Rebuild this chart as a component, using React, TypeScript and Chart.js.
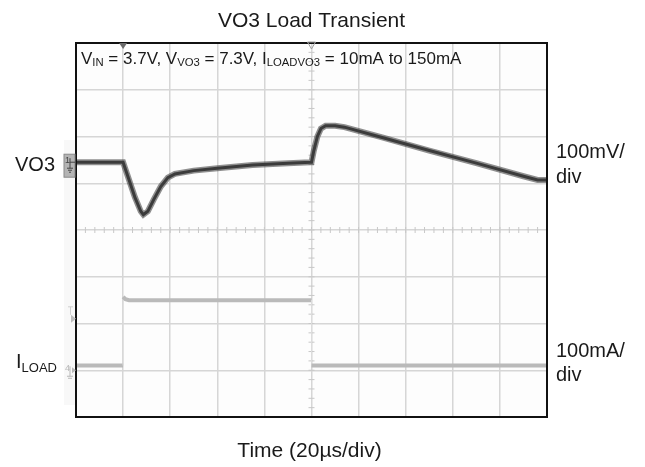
import React, { useEffect, useRef } from 'react';
import { Chart, registerables } from 'chart.js';

Chart.register(...registerables);

// ---- data (time in µs, 20 µs/div) ----
const VO3_TIME_US = [0, 20, 22, 25, 27.5, 28.6, 30.5, 33, 36, 39, 42, 50, 60, 75, 90, 99.6, 100, 101, 102.5, 104, 106, 110, 114, 130, 150, 170, 190, 196, 200];
const VO3_MV = [0, 0, -30, -75, -105, -112, -105, -80, -52, -33, -25, -18, -13, -6, -2, 0, 0, 25, 55, 72, 78, 78, 75, 53, 25, -2, -30, -38, -38];

const ILOAD_TIME_US = [0, 20, 20, 21, 22.5, 100, 100, 200];
const ILOAD_MA = [10, 10, 157, 152, 150, 150, 10, 10];

const TIME_RANGE_US = [0, 200];
const TIME_DIV_US = 20;
const VO3_RANGE_MV = [-545, 255];
const ILOAD_RANGE_MA = [-100, 700];
const ILOAD_DIV_MA = 100;
const TRIGGER_LEVEL_MA = 110;
const TRIGGER_MARK_US = [20, 100];

const TITLE = 'VO3 Load Transient';
const X_TITLE = 'Time (20µs/div)';
const VO3_SCALE = ['100mV/', 'div'];
const ILOAD_SCALE = ['100mA/', 'div'];
const CONDITIONS = [
  { t: 'V' }, { t: 'IN', sub: true }, { t: ' = 3.7V, V' }, { t: 'VO3', sub: true },
  { t: ' = 7.3V, I' }, { t: 'LOADVO3', sub: true }, { t: ' = 10mA to 150mA' },
];

const FONT = "'Liberation Sans', Arial, sans-serif";

type Part = { t: string; sub?: boolean };

function drawRich(ctx: CanvasRenderingContext2D, parts: Part[], x: number, y: number, size: number, subSize: number, subDrop: number, color: string) {
  ctx.save();
  ctx.fillStyle = color;
  ctx.textBaseline = 'alphabetic';
  ctx.textAlign = 'left';
  let cx = x;
  for (const p of parts) {
    ctx.font = `${p.sub ? subSize : size}px ${FONT}`;
    ctx.fillText(p.t, cx, p.sub ? y + subDrop : y);
    cx += ctx.measureText(p.t).width;
  }
  ctx.restore();
}

const scopePlugin = {
  id: 'scopeDecor',
  beforeDraw(chart: any) {
    const { ctx, chartArea: a } = chart;
    ctx.save();
    ctx.fillStyle = '#ffffff';
    ctx.fillRect(0, 0, chart.width, chart.height);
    ctx.fillStyle = '#f8f8f8';
    ctx.fillRect(a.left - 12, 140, 12, 265);
    ctx.fillStyle = '#fdfdfd';
    ctx.fillRect(a.left, a.top, a.right - a.left, a.bottom - a.top);
    ctx.restore();
  },
  beforeDatasetsDraw(chart: any) {
    const { ctx } = chart;
    const x = chart.scales.x;
    const yI = chart.scales.yI;
    const cy = yI.getPixelForValue((ILOAD_RANGE_MA[0] + ILOAD_RANGE_MA[1]) / 2);
    const cxv = x.getPixelForValue((TIME_RANGE_US[0] + TIME_RANGE_US[1]) / 2);
    ctx.save();
    ctx.strokeStyle = '#c8c8c8';
    ctx.lineWidth = 1;
    ctx.beginPath();
    for (let t = TIME_RANGE_US[0]; t <= TIME_RANGE_US[1]; t += TIME_DIV_US / 5) {
      const px = x.getPixelForValue(t);
      ctx.moveTo(px, cy - 3);
      ctx.lineTo(px, cy + 3);
    }
    for (let v = ILOAD_RANGE_MA[0]; v <= ILOAD_RANGE_MA[1]; v += ILOAD_DIV_MA / 5) {
      const py = yI.getPixelForValue(v);
      ctx.moveTo(cxv - 3, py);
      ctx.lineTo(cxv + 3, py);
    }
    ctx.stroke();
    ctx.restore();
  },
  afterDraw(chart: any) {
    const { ctx, chartArea: a } = chart;
    const x = chart.scales.x;
    const yV = chart.scales.yV;
    const yI = chart.scales.yI;
    ctx.save();
    // border
    ctx.strokeStyle = '#111';
    ctx.lineWidth = 2;
    ctx.strokeRect(a.left, a.top, a.right - a.left, a.bottom - a.top);

    // trigger position markers on top edge
    const t0 = x.getPixelForValue(TRIGGER_MARK_US[0]);
    ctx.fillStyle = '#6a6a6a';
    ctx.beginPath();
    ctx.moveTo(t0 - 4, a.top);
    ctx.lineTo(t0 + 4, a.top);
    ctx.lineTo(t0, a.top + 6);
    ctx.closePath();
    ctx.fill();
    const t1 = x.getPixelForValue(TRIGGER_MARK_US[1]);
    ctx.strokeStyle = '#a0a0a0';
    ctx.lineWidth = 1;
    ctx.beginPath();
    ctx.moveTo(t1 - 4, a.top - 1);
    ctx.lineTo(t1 + 4, a.top - 1);
    ctx.lineTo(t1, a.top + 6);
    ctx.closePath();
    ctx.stroke();

    // channel 1 marker
    const z1 = yV.getPixelForValue(0);
    ctx.fillStyle = '#b4b4b4';
    ctx.strokeStyle = '#8a8a8a';
    ctx.fillRect(a.left - 12, z1 - 8, 11, 23);
    ctx.strokeRect(a.left - 12, z1 - 8, 11, 23);
    ctx.fillStyle = '#444';
    ctx.font = `9px ${FONT}`;
    ctx.fillText('1', a.left - 11, z1 + 1);
    ctx.strokeStyle = '#444';
    ctx.beginPath();
    ctx.moveTo(a.left - 6, z1 - 4); ctx.lineTo(a.left - 6, z1 + 6);
    ctx.moveTo(a.left - 9, z1 + 6); ctx.lineTo(a.left - 3, z1 + 6);
    ctx.moveTo(a.left - 8, z1 + 8); ctx.lineTo(a.left - 4, z1 + 8);
    ctx.moveTo(a.left - 7, z1 + 10); ctx.lineTo(a.left - 5, z1 + 10);
    ctx.moveTo(a.left - 6, z1); ctx.lineTo(a.left - 1, z1);
    ctx.stroke();

    // channel 4 marker
    const z4 = yI.getPixelForValue(0);
    ctx.fillStyle = '#b8b8b8';
    ctx.font = `9px ${FONT}`;
    ctx.fillText('4', a.left - 11, z4 + 1);
    ctx.strokeStyle = '#b8b8b8';
    ctx.beginPath();
    ctx.moveTo(a.left - 6, z4 - 4); ctx.lineTo(a.left - 6, z4 + 6);
    ctx.moveTo(a.left - 9, z4 + 6); ctx.lineTo(a.left - 3, z4 + 6);
    ctx.moveTo(a.left - 8, z4 + 8); ctx.lineTo(a.left - 4, z4 + 8);
    ctx.stroke();
    ctx.beginPath();
    ctx.moveTo(a.left - 4, z4 - 3); ctx.lineTo(a.left, z4); ctx.lineTo(a.left - 4, z4 + 3);
    ctx.closePath();
    ctx.fillStyle = '#b8b8b8';
    ctx.fill();

    // trigger level marker
    const tl = yI.getPixelForValue(TRIGGER_LEVEL_MA);
    ctx.fillStyle = '#bdbdbd';
    ctx.beginPath();
    ctx.moveTo(a.left - 5, tl - 4); ctx.lineTo(a.left, tl); ctx.lineTo(a.left - 5, tl + 4);
    ctx.closePath();
    ctx.fill();
    ctx.strokeStyle = '#cfcfcf';
    ctx.beginPath();
    ctx.moveTo(a.left - 8, tl - 12); ctx.lineTo(a.left - 3, tl - 12);
    ctx.moveTo(a.left - 5.5, tl - 12); ctx.lineTo(a.left - 5.5, tl - 4);
    ctx.stroke();

    // texts
    const dark = '#1a1a1a';
    ctx.fillStyle = dark;
    ctx.textBaseline = 'alphabetic';
    ctx.textAlign = 'center';
    ctx.font = `21px ${FONT}`;
    const midX = (a.left + a.right) / 2;
    ctx.fillText(TITLE, midX, 27);
    ctx.fillText(X_TITLE, midX - 2, 457);
    ctx.textAlign = 'left';
    ctx.font = `20px ${FONT}`;
    ctx.fillText('VO3', 15, z1 + 8.5);
    ctx.fillText(VO3_SCALE[0], a.right + 9, 158);
    ctx.fillText(VO3_SCALE[1], a.right + 9, 183);
    ctx.fillText(ILOAD_SCALE[0], a.right + 9, 357);
    ctx.fillText(ILOAD_SCALE[1], a.right + 9, 381);
    ctx.restore();

    drawRich(ctx, [{ t: 'I' }, { t: 'LOAD', sub: true }], 16, z4 - 2, 20, 13, 4, dark);
    drawRich(ctx, CONDITIONS, a.left + 5, a.top + 20.5, 17, 11.3, 2, dark);
  },
};

const isVertical = (c: any) => c.p0.parsed.x === c.p1.parsed.x;

export default function App() {
  const ref = useRef<HTMLCanvasElement | null>(null);
  useEffect(() => {
    if (!ref.current) return;
    const vo3 = VO3_TIME_US.map((t, i) => ({ x: t, y: VO3_MV[i] }));
    const iload = ILOAD_TIME_US.map((t, i) => ({ x: t, y: ILOAD_MA[i] }));
    const chart = new Chart(ref.current, {
      type: 'line',
      data: {
        datasets: [
          {
            label: 'ILOAD', data: iload, yAxisID: 'yI', borderColor: '#bababa', borderWidth: 4, pointRadius: 0, tension: 0,
            segment: {
              borderColor: (c: any) => (isVertical(c) ? '#dcdcdc' : undefined),
              borderWidth: (c: any) => (isVertical(c) ? 1 : undefined),
            },
          },
          { label: 'VO3 halo', data: vo3, yAxisID: 'yV', borderColor: 'rgba(70,70,70,0.6)', borderWidth: 6, pointRadius: 0, tension: 0 },
          { label: 'VO3', data: vo3, yAxisID: 'yV', borderColor: '#2b2b2b', borderWidth: 3, pointRadius: 0, tension: 0 },
        ],
      },
      options: {
        responsive: false,
        animation: false,
        events: [],
        layout: { padding: { left: 76, right: 98, top: 43, bottom: 50 } },
        plugins: { legend: { display: false }, tooltip: { enabled: false }, title: { display: false } },
        scales: {
          x: {
            type: 'linear', min: TIME_RANGE_US[0], max: TIME_RANGE_US[1],
            ticks: { display: false, stepSize: TIME_DIV_US },
            grid: { color: '#d6d6d6', lineWidth: 1.5, drawTicks: false },
            border: { display: false },
          },
          yI: {
            type: 'linear', position: 'left', min: ILOAD_RANGE_MA[0], max: ILOAD_RANGE_MA[1],
            ticks: { display: false, stepSize: ILOAD_DIV_MA },
            grid: { color: '#d6d6d6', lineWidth: 1.5, drawTicks: false },
            border: { display: false },
          },
          yV: {
            type: 'linear', position: 'right', min: VO3_RANGE_MV[0], max: VO3_RANGE_MV[1],
            display: false,
          },
        },
      },
      plugins: [scopePlugin],
    });
    return () => chart.destroy();
  }, []);
  return (
    <div style={{ position: 'fixed', left: 0, top: 0, width: 645, height: 467, background: '#fff' }}>
      <canvas ref={ref} width={645} height={467} style={{ display: 'block' }} />
    </div>
  );
}
